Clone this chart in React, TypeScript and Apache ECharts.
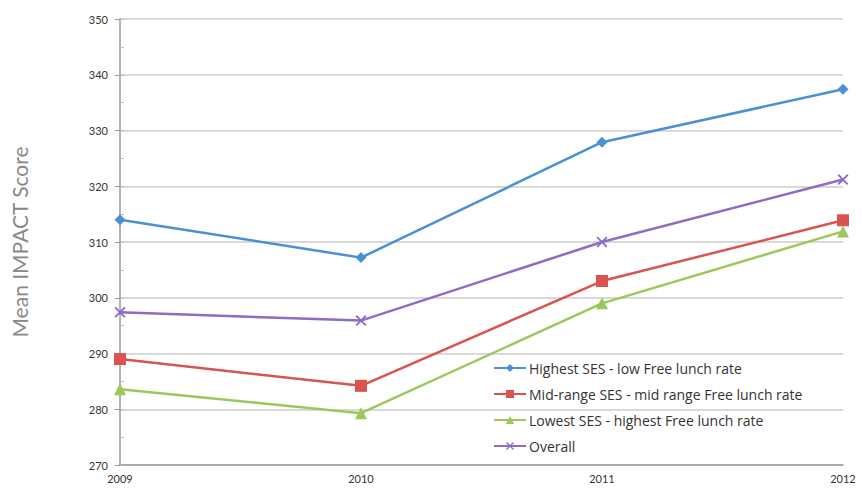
import React, { useEffect, useRef } from "react";
import * as echarts from "echarts";

const years = ["2009", "2010", "2011", "2012"];
const highestSES = [314.0, 307.2, 327.9, 337.4];
const midRangeSES = [289.0, 284.2, 303.0, 313.9];
const lowestSES = [283.6, 279.3, 299.0, 311.9];
const overall = [297.4, 295.9, 310.0, 321.2];

const seriesNames = [
  "Highest SES - low Free lunch rate",
  "Mid-range SES - mid range Free lunch rate",
  "Lowest SES - highest Free lunch rate",
  "Overall",
];
const colors = ["#4a90d6", "#d9534f", "#9bc85a", "#8e6cc4"];
const xSymbol =
  "path://M0,1.2 L1.2,0 L5,3.8 L8.8,0 L10,1.2 L6.2,5 L10,8.8 L8.8,10 L5,6.2 L1.2,10 L0,8.8 L3.8,5 Z";

export default function App() {
  const ref = useRef<HTMLDivElement>(null);
  useEffect(() => {
    if (!ref.current) return;
    const chart = echarts.init(ref.current, undefined, { renderer: "svg" });
    const font = "Lato, 'Open Sans', sans-serif";
    const legendFont = "'Open Sans', sans-serif";
    const mk = (i: number, data: number[], symbol: string, size: number) => ({
      name: seriesNames[i],
      type: "line",
      data,
      symbol,
      symbolSize: size,
      showAllSymbol: true,
      itemStyle: { color: colors[i] },
      lineStyle: { color: colors[i], width: 2.5 },
    });
    chart.setOption({
      animation: false,
      textStyle: { fontFamily: font },
      grid: { left: 120, right: 19, top: 19, bottom: 25 },
      legend: {
        orient: "vertical",
        left: 488,
        top: 356,
        itemGap: 12,
        itemWidth: 32,
        itemHeight: 10,
        textStyle: { fontFamily: legendFont, fontSize: 14, color: "#333", padding: [0, 0, 0, -2] },
        data: seriesNames,
      },
      xAxis: {
        type: "category",
        data: years,
        boundaryGap: false,
        axisLine: { lineStyle: { color: "#999", width: 1.5 } },
        axisTick: { show: false },
        axisLabel: { color: "#333", fontSize: 11, fontFamily: font, margin: 8 },
      },
      yAxis: [
        {
          type: "value",
          min: 270,
          max: 350,
          interval: 10,
          name: "Mean IMPACT Score",
          nameLocation: "middle",
          nameGap: 90,
          nameTextStyle: { color: "#888", fontSize: 21, fontFamily: font },
          axisLine: { show: true, lineStyle: { color: "#999", width: 1.5 } },
          axisTick: { show: true, length: 5, lineStyle: { color: "#999" } },
          axisLabel: { color: "#333", fontSize: 11, fontFamily: font, margin: 12 },
          splitLine: { lineStyle: { color: "#cccccc", width: 1.5 } },
        },
        {
          type: "value",
          position: "left",
          min: 270,
          max: 350,
          interval: 5,
          axisLine: { show: false },
          axisTick: { show: true, inside: true, length: 4, lineStyle: { color: "#bbb" } },
          axisLabel: { show: false },
          splitLine: { show: false },
        },
      ],
      series: [
        mk(0, highestSES, "diamond", 11),
        mk(1, midRangeSES, "rect", 12),
        mk(2, lowestSES, "triangle", 12),
        mk(3, overall, xSymbol, 11),
      ],
    });
    return () => chart.dispose();
  }, []);
  return <div ref={ref} style={{ width: 862, height: 490, position: "absolute", left: 0, top: 0, background: "#fff" }} />;
}
